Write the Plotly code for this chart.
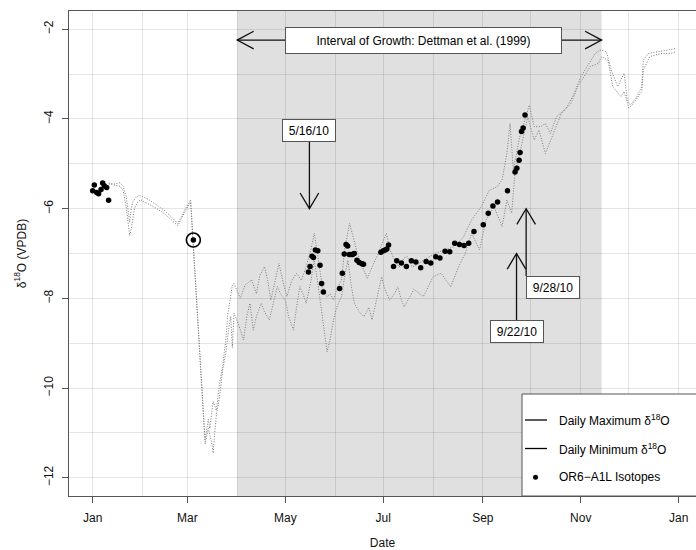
import pandas as pd
import plotly.graph_objects as go

BASE = pd.Timestamp("2010-01-01")

# ---- data (day of 2010, value in permil VPDB) ----
max_day = [10, 14, 17, 19, 21, 23, 24, 25, 27, 29, 31, 35, 40, 45, 50, 53, 57, 61,
           70, 72, 73, 75, 77, 79, 81, 83, 84, 86, 87, 88, 92, 95, 99, 102, 104, 107,
           109, 111, 114, 116, 119, 121, 124, 127, 130, 133, 136, 138, 140, 143, 146,
           148, 150, 152, 155, 157, 160, 162, 165, 168, 171, 174, 177, 180, 183, 185,
           188, 191, 194, 196, 199, 202, 206, 213, 219, 225, 231, 236, 242, 247, 252,
           255, 258, 260, 262, 266, 272, 275, 279, 282, 285, 289, 295, 300, 304, 308,
           313, 316, 320, 323, 327, 331, 333, 335, 339, 342, 343, 346, 352, 358, 363]
max_val = [-5.43, -5.45, -5.42, -5.5, -5.75, -6.3, -6.0, -5.85, -5.75, -5.7, -5.73, -5.8,
           -5.92, -6.05, -6.22, -6.33, -6.05, -5.8,
           -11.15, -10.7, -10.9, -10.3, -10.5, -9.9, -9.5, -8.9, -8.4, -7.9, -7.7, -7.67,
           -8.0, -7.7, -7.59, -7.9, -7.5, -7.29, -7.6, -8.04, -7.5, -7.22, -7.7, -7.96,
           -7.6, -7.44, -7.6, -7.29, -6.9, -6.55, -7.0, -7.74, -7.96, -7.9, -8.04, -7.8,
           -7.59, -6.9, -6.33, -6.6, -7.0, -7.3, -7.55, -7.3, -7.07, -6.8, -6.55, -6.9,
           -7.15, -7.3, -7.1, -7.07, -7.3, -7.25, -7.15, -7.0, -6.92, -6.85, -6.63, -6.25,
           -5.96, -5.59, -5.51, -5.36, -4.77, -4.1, -5.14, -4.4, -3.69, -4.17, -4.17,
           -4.1, -4.32, -3.95, -3.76, -3.43, -3.06, -2.83, -2.54, -2.46, -2.5, -2.91,
           -3.28, -2.98, -3.58, -3.69, -3.5, -3.28, -2.69, -2.54, -2.5, -2.46, -2.43]

min_day = [10, 14, 17, 19, 21, 23, 24, 26, 28, 30, 32, 35, 40, 45, 50, 53, 57, 61,
           70, 72, 74, 75, 77, 79, 81, 83, 85, 86, 87, 88, 91, 94, 96, 98, 100, 102,
           105, 107, 110, 113, 115, 117, 120, 122, 125, 127, 129, 131, 133, 136, 138,
           140, 142, 144, 146, 148, 150, 152, 155, 157, 159, 161, 163, 166, 169, 172,
           174, 177, 180, 182, 185, 188, 190, 192, 194, 197, 200, 206, 212, 217, 223,
           228, 232, 236, 241, 245, 250, 255, 258, 261, 263, 266, 271, 275, 278, 282,
           287, 292, 298, 302, 306, 310, 315, 317, 321, 324, 329, 331, 334, 336, 342,
           343, 347, 354, 360, 363]
min_val = [-5.45, -5.48, -5.5, -5.6, -6.0, -6.6, -6.45, -6.0, -5.85, -5.8, -5.85, -5.9,
           -6.0, -6.12, -6.28, -6.38, -6.1, -5.85,
           -11.25, -10.9, -11.2, -11.45, -10.6, -10.2, -9.6, -9.2, -8.6, -8.4, -9.1,
           -8.33, -8.6, -8.93, -8.4, -8.11, -8.71, -8.4, -8.11, -8.3, -8.48, -8.0, -7.74,
           -7.9, -8.04, -8.4, -8.71, -8.2, -7.74, -7.9, -8.11, -7.6, -7.15, -7.6, -8.11,
           -8.7, -9.19, -8.9, -8.48, -8.2, -7.96, -7.5, -7.15, -7.7, -8.11, -8.3, -8.41,
           -8.2, -8.48, -8.0, -7.52, -7.8, -8.04, -7.9, -7.74, -8.0, -8.19, -8.0, -7.8,
           -7.96, -7.52, -7.44, -7.74, -7.29, -7.0, -6.55, -6.92, -6.25, -5.96, -6.4,
           -5.81, -6.1, -5.21, -4.77, -3.95, -4.47, -4.25, -4.77, -4.32, -3.87, -3.65,
           -3.28, -3.06, -2.83, -2.76, -2.61, -2.69, -3.28, -3.5, -3.39, -3.76, -3.69,
           -3.39, -2.91, -2.61, -2.54, -2.54, -2.5]

iso_day = [0, 1, 2.5, 3.7, 5.2, 6.2, 7.2, 8.7, 9.9, 62.7,
           134.4, 135.4, 136.6, 137.5, 138.7, 140.2, 141.6, 142.6, 143.7,
           153.8, 155.5, 156.7, 157.8, 158.8, 159.8, 160.9, 161.9, 162.9, 164.6, 166.0,
           167.7, 168.7, 179.5, 181.0, 182.2, 183.2, 184.3, 187.4, 189.4, 192.3, 195.4,
           198.5, 201.3, 204.3, 207.7, 210.6, 213.7, 216.3, 219.5, 222.4, 225.5, 228.4,
           231.3, 234.2, 237.5, 243.3, 246.4, 249.3, 252.2, 258.4, 263.1, 264.2, 265.6,
           266.2, 267.1, 268.1, 269.3]
iso_val = [-5.6, -5.47, -5.64, -5.67, -5.57, -5.43, -5.49, -5.53, -5.81, -6.7,
           -7.41, -7.29, -7.06, -7.09, -6.92, -6.94, -7.26, -7.67, -7.86,
           -7.78, -7.44, -7.01, -6.8, -6.83, -7.02, -7.02, -7.02, -7.0, -7.15, -7.2,
           -7.23, -7.24, -6.97, -6.94, -6.92, -6.9, -6.81, -7.29, -7.16, -7.21, -7.29,
           -7.16, -7.19, -7.32, -7.18, -7.21, -7.07, -7.1, -6.95, -6.96, -6.77, -6.8,
           -6.82, -6.77, -6.51, -6.36, -6.1, -5.94, -5.85, -5.6, -5.18, -5.1, -4.92,
           -4.75, -4.28, -4.2, -3.91]

circled_day = [62.7]
circled_val = [-6.7]

x_tick_dates = ["2010-01-01", "2010-03-01", "2010-05-01", "2010-07-01",
                "2010-09-01", "2010-11-01", "2011-01-01"]
x_tick_text = ["Jan", "Mar", "May", "Jul", "Sep", "Nov", "Jan"]
x_minor_dates = ["2010-02-01", "2010-04-01", "2010-06-01", "2010-08-01",
                 "2010-10-01", "2010-12-01"]
y_tick_vals = [-2, -4, -6, -8, -10, -12]
y_minor_vals = [-3, -5, -7, -9, -11]

growth_start = "2010-04-01"
growth_end = "2010-11-14"
growth_label = "Interval of Growth: Dettman et al. (1999)"
growth_y = -2.24

callouts = [  # label, arrow date, arrow from, arrow tip, box centre date, box centre y
    ("5/16/10", "2010-05-16", -4.51, -6.0, "2010-05-16", -4.257),
    ("9/22/10", "2010-09-22", -8.5, -7.0, "2010-09-22", -8.746),
    ("9/28/10", "2010-09-28", -7.5, -6.0, "2010-10-14 10:00", -7.747),
]

legend_labels = ["Daily Maximum δ<sup>18</sup>O", "Daily Minimum δ<sup>18</sup>O",
                 "OR6\u2212A1L Isotopes"]


def to_dates(days):
    return [BASE + pd.Timedelta(days=d) for d in days]


FONT = "Liberation Sans, Arial, Helvetica, sans-serif"
AX = "#555555"
GRID = "rgba(0,0,0,0.10)"
ARROW = "#111111"

fig = go.Figure()
dotted = dict(color="#7a7a7a", width=1, dash="1px,1.6px")
fig.add_trace(go.Scatter(x=to_dates(max_day), y=max_val, mode="lines", line=dotted,
                         name="Daily Maximum δ18O", showlegend=False))
fig.add_trace(go.Scatter(x=to_dates(min_day), y=min_val, mode="lines", line=dotted,
                         name="Daily Minimum δ18O", showlegend=False))
fig.add_trace(go.Scatter(x=to_dates(iso_day), y=iso_val, mode="markers",
                         marker=dict(color="black", size=5.5, line=dict(width=0)),
                         name="OR6-A1L Isotopes", showlegend=False))
fig.add_trace(go.Scatter(x=to_dates(circled_day), y=circled_val, mode="markers",
                         marker=dict(symbol="circle-open", color="black", size=14,
                                     line=dict(width=1.6, color="black")),
                         showlegend=False))

shapes = []
# growth interval shading
shapes.append(dict(type="rect", xref="x", yref="paper", x0=growth_start, x1=growth_end,
                   y0=0, y1=1, fillcolor="#e0e0e0", line=dict(width=0), layer="below"))
# growth double arrow
shapes.append(dict(type="line", xref="x", yref="y", x0=growth_start, x1=growth_end,
                   y0=growth_y, y1=growth_y, line=dict(color=ARROW, width=1.3)))
for anchor, path in ((growth_start, "M16.5,8.8L0,0L16.5,-8.8"),
                     (growth_end, "M-16.5,8.8L0,0L-16.5,-8.8")):
    shapes.append(dict(type="path", xref="x", yref="y", xsizemode="pixel",
                       ysizemode="pixel", xanchor=anchor, yanchor=growth_y, path=path,
                       line=dict(color=ARROW, width=1.3)))
# callout arrows
for label, d, y_from, y_tip, bx, by in callouts:
    shapes.append(dict(type="line", xref="x", yref="y", x0=d, x1=d, y0=y_from, y1=y_tip,
                       line=dict(color=ARROW, width=1.3)))
    sign = 1 if y_tip < y_from else -1
    shapes.append(dict(type="path", xref="x", yref="y", xsizemode="pixel",
                       ysizemode="pixel", xanchor=d, yanchor=y_tip,
                       path=f"M-9.3,{15.7*sign}L0,0L9.3,{15.7*sign}",
                       line=dict(color=ARROW, width=1.3)))

# manual legend
PW, PH, L, B = 627.0, 485.0, 69.0, 496.0
def px(x):
    return (x - L) / PW
def py(y):
    return (B - y) / PH

shapes.append(dict(type="rect", xref="paper", yref="paper", x0=px(522), x1=1.03,
                   y0=0, y1=py(394), fillcolor="white", line=dict(color=AX, width=1),
                   layer="above"))
leg_y = [py(420), py(448.5), py(477.3)]
for yy in leg_y[:2]:
    shapes.append(dict(type="line", xref="paper", yref="paper", x0=px(525), x1=px(547),
                       y0=yy, y1=yy, line=dict(color="black", width=1.3)))
shapes.append(dict(type="circle", xref="paper", yref="paper", xsizemode="pixel",
                   ysizemode="pixel", xanchor=px(535.5), yanchor=leg_y[2],
                   x0=-2.5, x1=2.5, y0=-2.5, y1=2.5, fillcolor="black",
                   line=dict(color="black", width=0)))

annotations = []
annotations.append(dict(x="2010-07-26", y=growth_y, xref="x", yref="y", text=growth_label,
                        showarrow=False, bgcolor="white", bordercolor=AX, borderwidth=1,
                        borderpad=3, width=269, height=19,
                        font=dict(family=FONT, size=12, color="black")))
for label, d, y_from, y_tip, bx, by in callouts:
    annotations.append(dict(x=bx, y=by, xref="x", yref="y", text=label, showarrow=False,
                            bgcolor="white", bordercolor=AX, borderwidth=1, borderpad=3,
                            width=46, height=15,
                            font=dict(family=FONT, size=12, color="black")))
for txt, yy in zip(legend_labels, leg_y):
    annotations.append(dict(x=px(556.5), y=yy, xref="paper", yref="paper", text=txt,
                            showarrow=False, xanchor="left", yanchor="middle",
                            font=dict(family=FONT, size=12, color="black")))

fig.update_layout(
    width=696, height=550,
    margin=dict(l=69, r=0, t=11, b=54),
    paper_bgcolor="white", plot_bgcolor="white",
    font=dict(family=FONT, size=12, color="black"),
    shapes=shapes, annotations=annotations,
    showlegend=False,
)
fig.update_xaxes(
    type="date",
    range=["2009-12-17 05:45", "2011-01-11 19:12"],
    tickmode="array", tickvals=x_tick_dates, ticktext=x_tick_text,
    ticks="outside", ticklen=6, tickwidth=1, tickcolor=AX,
    showline=True, linecolor=AX, linewidth=1, mirror=True,
    showgrid=True, gridcolor=GRID, gridwidth=1, zeroline=False,
    minor=dict(tickmode="array", tickvals=x_minor_dates, showgrid=True,
               gridcolor=GRID, gridwidth=1, ticks=""),
    tickfont=dict(family=FONT, size=12, color="#111"),
    ticklabelstandoff=5,
    title=dict(text="Date", standoff=16, font=dict(family=FONT, size=12, color="#111")),
)
fig.update_yaxes(
    range=[-12.408, -1.592],
    tickmode="array", tickvals=y_tick_vals,
    ticks="outside", ticklen=6, tickwidth=1, tickcolor=AX, tickangle=-90,
    showline=True, linecolor=AX, linewidth=1, mirror=False,
    showgrid=True, gridcolor=GRID, gridwidth=1, zeroline=False,
    minor=dict(tickmode="array", tickvals=y_minor_vals, showgrid=True,
               gridcolor=GRID, gridwidth=1, ticks=""),
    tickfont=dict(family=FONT, size=12, color="#111"),
    ticklabelstandoff=4,
    title=dict(text="δ<sup>18</sup>O (VPDB)", standoff=13,
               font=dict(family=FONT, size=12, color="#111")),
)

fig.write_html("out.html")
